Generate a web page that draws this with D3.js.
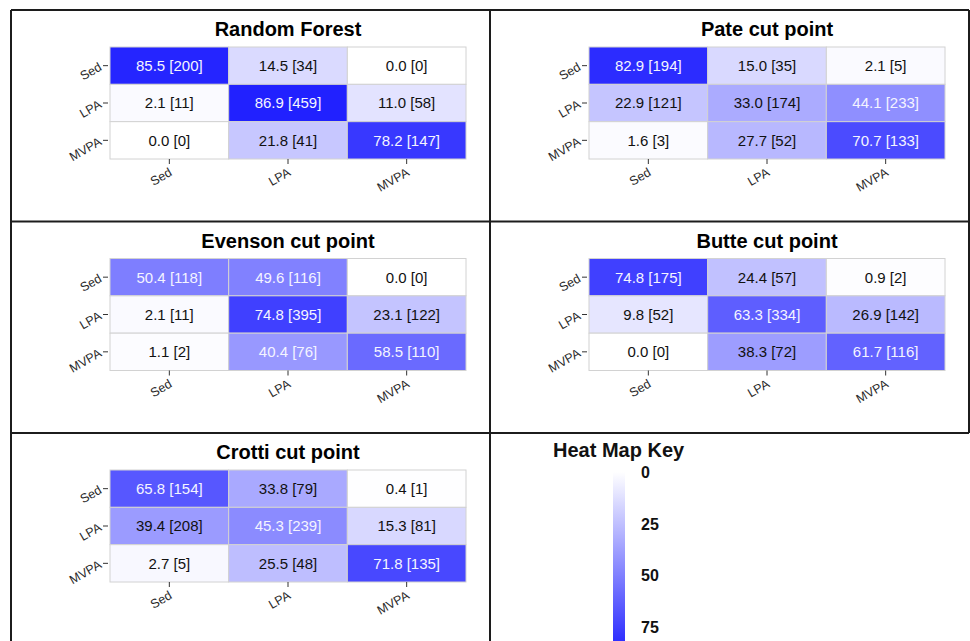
<!DOCTYPE html>
<html>
<head>
<meta charset="utf-8">
<script src="https://cdn.jsdelivr.net/npm/d3@7/dist/d3.min.js"></script>
<style>
  html, body { margin: 0; padding: 0; background: #ffffff; }
  svg { display: block; font-family: "Liberation Sans", Arial, sans-serif; }
</style>
</head>
<body>
<svg id="chart" width="970" height="641"></svg>
<script>
// Activity classes (rows = reference, columns = predicted)
const categories = ["Sed", "LPA", "MVPA"];

const panelTitles = ["Random Forest", "Pate cut point", "Evenson cut point", "Butte cut point", "Crotti cut point"];

// Row-wise percentages and counts for each method
const randomForestPct = [[85.5, 14.5, 0.0], [2.1, 86.9, 11.0], [0.0, 21.8, 78.2]];
const randomForestN   = [[200, 34, 0], [11, 459, 58], [0, 41, 147]];

const patePct = [[82.9, 15.0, 2.1], [22.9, 33.0, 44.1], [1.6, 27.7, 70.7]];
const pateN   = [[194, 35, 5], [121, 174, 233], [3, 52, 133]];

const evensonPct = [[50.4, 49.6, 0.0], [2.1, 74.8, 23.1], [1.1, 40.4, 58.5]];
const evensonN   = [[118, 116, 0], [11, 395, 122], [2, 76, 110]];

const buttePct = [[74.8, 24.4, 0.9], [9.8, 63.3, 26.9], [0.0, 38.3, 61.7]];
const butteN   = [[175, 57, 2], [52, 334, 142], [0, 72, 116]];

const crottiPct = [[65.8, 33.8, 0.4], [39.4, 45.3, 15.3], [2.7, 25.5, 71.8]];
const crottiN   = [[154, 79, 1], [208, 239, 81], [5, 48, 135]];

const legendTicks = [0, 25, 50, 75];

const pctSets = [randomForestPct, patePct, evensonPct, buttePct, crottiPct];
const nSets = [randomForestN, pateN, evensonN, butteN, crottiN];

const svg = d3.select("#chart");

// Shared colour scale: white at 0 %, pure blue at 100 %
const color = d3.scaleLinear().domain([0, 100]).range(["#ffffff", "#0000ff"]).interpolate(d3.interpolateRgb);

// Panel frame geometry
const frameLeft = 11, frameTop = 10, colW = 479, rowH = 211.5;
const gridDX = 99, gridDY = 37, gridW = 356, gridH = 112;

function drawPanel(idx) {
  const col = idx % 2, row = Math.floor(idx / 2);
  const x0 = frameLeft + col * colW, y0 = frameTop + row * rowH;
  const g = svg.append("g").attr("transform", `translate(${x0 + gridDX},${y0 + gridDY})`);

  const x = d3.scaleBand().domain(categories).range([0, gridW]);
  const y = d3.scaleBand().domain(categories).range([0, gridH]);

  const cells = [];
  pctSets[idx].forEach((rowVals, i) => rowVals.forEach((v, j) => {
    cells.push({ r: categories[i], c: categories[j], v, n: nSets[idx][i][j] });
  }));

  g.selectAll("rect.cell").data(cells).join("rect")
    .attr("class", "cell")
    .attr("x", d => x(d.c)).attr("y", d => y(d.r))
    .attr("width", x.bandwidth()).attr("height", y.bandwidth())
    .attr("fill", d => color(d.v))
    .attr("stroke", "#d2d2d2").attr("stroke-width", 1);

  g.selectAll("text.val").data(cells).join("text")
    .attr("class", "val")
    .attr("x", d => x(d.c) + x.bandwidth() / 2)
    .attr("y", d => y(d.r) + y.bandwidth() / 2)
    .attr("dy", "0.36em")
    .attr("text-anchor", "middle")
    .attr("font-size", 15)
    .attr("fill", d => d.v > 40 ? "#f4f4ff" : "#111111")
    .text(d => `${d.v.toFixed(1)} [${d.n}]`);

  // Title centred over the grid
  g.append("text")
    .attr("x", gridW / 2).attr("y", -11)
    .attr("text-anchor", "middle")
    .attr("font-size", 20).attr("font-weight", "bold")
    .attr("fill", "#000")
    .text(panelTitles[idx]);

  // Left axis (reference class), labels slanted 30 degrees
  const ya = g.append("g").call(d3.axisLeft(y).tickSize(5).tickPadding(0));
  ya.select(".domain").remove();
  ya.selectAll(".tick line").attr("stroke", "#333").attr("x1", -2).attr("x2", -7);
  ya.selectAll(".tick text")
    .attr("font-size", 12.5)
    .attr("fill", "#2a2a2a")
    .attr("text-anchor", "end")
    .attr("x", -12).attr("y", -4).attr("dy", "0.72em")
    .attr("transform", "rotate(-30,-12,-4)");

  // Bottom axis (predicted class)
  const xa = g.append("g").attr("transform", `translate(0,${gridH})`)
    .call(d3.axisBottom(x).tickSize(5).tickPadding(0));
  xa.select(".domain").remove();
  xa.selectAll(".tick line").attr("stroke", "#333");
  xa.selectAll(".tick text")
    .attr("font-size", 12.5)
    .attr("fill", "#2a2a2a")
    .attr("text-anchor", "end")
    .attr("x", -1).attr("y", 8).attr("dy", "0.72em")
    .attr("transform", "rotate(-30,-1,8)");
}

pctSets.forEach((_, i) => drawPanel(i));

// Legend: vertical colour bar
const lg = svg.append("g");
const ly = d3.scaleLinear().domain([0, 100]).range([472, 679]);
const barX = 613, barW = 12;
const grad = svg.append("defs").append("linearGradient")
  .attr("id", "keyGrad").attr("x1", 0).attr("x2", 0).attr("y1", 0).attr("y2", 1);
d3.range(0, 101, 10).forEach(v => {
  grad.append("stop").attr("offset", `${v}%`).attr("stop-color", color(v));
});
lg.append("rect")
  .attr("x", barX).attr("y", ly(0))
  .attr("width", barW).attr("height", ly(100) - ly(0))
  .attr("fill", "url(#keyGrad)");
lg.selectAll("text.tick").data(legendTicks).join("text")
  .attr("class", "tick")
  .attr("x", 641).attr("y", d => ly(d)).attr("dy", "0.36em")
  .attr("font-size", 16).attr("font-weight", "bold").attr("fill", "#111")
  .text(d => d);
lg.append("text")
  .attr("x", 553).attr("y", 457)
  .attr("font-size", 20).attr("font-weight", "bold").attr("fill", "#111")
  .text("Heat Map Key");

// Panel frame lines
const frame = svg.append("g").attr("stroke", "#1c1c1c").attr("stroke-width", 2).attr("fill", "none");
const midX = frameLeft + colW, rightX = frameLeft + 2 * colW;
const r1 = frameTop + rowH, r2 = frameTop + 2 * rowH;
[
  [frameLeft, frameTop, rightX, frameTop],
  [frameLeft, frameTop, frameLeft, 660],
  [midX, frameTop, midX, 660],
  [rightX, frameTop, rightX, r2],
  [frameLeft, r1, rightX, r1],
  [frameLeft, r2, rightX, r2]
].forEach(([a, b, c, d]) => frame.append("line").attr("x1", a).attr("y1", b).attr("x2", c).attr("y2", d));
</script>
</body>
</html>
